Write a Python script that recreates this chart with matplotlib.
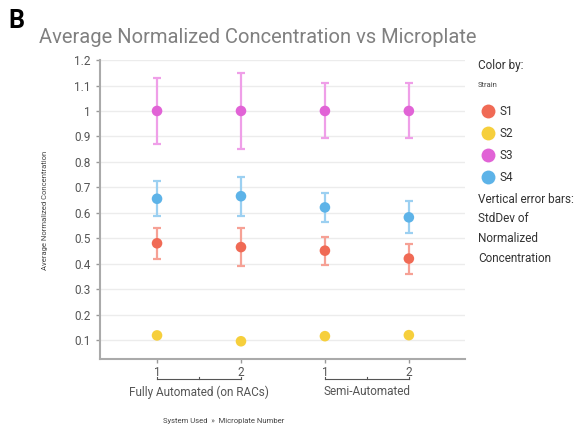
import matplotlib.pyplot as plt
import matplotlib.transforms as mtransforms
from matplotlib.lines import Line2D

plt.rcParams["font.family"] = ["Roboto", "DejaVu Sans"]

systems = ["Fully Automated (on RACs)", "Semi-Automated"]
plates = ["1", "2", "1", "2"]
strains = ["S1", "S2", "S3", "S4"]
colors = ["#f06a55", "#f6cf3c", "#e163d6", "#5db3e8"]
bar_colors = ["#f6a195", "#f9e08a", "#ef9fe8", "#9cd0f1"]

s1_mean = [0.48, 0.465, 0.451, 0.42]
s1_sd = [0.062, 0.075, 0.055, 0.059]
s2_mean = [0.118, 0.095, 0.115, 0.119]
s2_sd = [0.0, 0.0, 0.0, 0.0]
s3_mean = [1.0, 1.0, 1.0, 1.0]
s3_sd = [0.128, 0.151, 0.108, 0.108]
s4_mean = [0.655, 0.665, 0.621, 0.582]
s4_sd = [0.068, 0.077, 0.058, 0.063]

means = [s1_mean, s2_mean, s3_mean, s4_mean]
sds = [s1_sd, s2_sd, s3_sd, s4_sd]
yticks = [0.1, 0.2, 0.3, 0.4, 0.5, 0.6, 0.7, 0.8, 0.9, 1.0, 1.1, 1.2]

fig = plt.figure(figsize=(5.88, 4.29), dpi=100)
ax = fig.add_axes([0.170, 0.163, 0.621, 0.697])
x = list(range(len(plates)))

for m, s, c, bc in zip(means, sds, colors, bar_colors):
    ax.errorbar(x, m, yerr=s, fmt="none", ecolor=bc, elinewidth=1.6,
                capsize=3, capthick=1.6, zorder=2)
    ax.scatter(x, m, s=58, color=c, edgecolor="none", zorder=3)

ax.set_xlim(-0.68, 3.67)
ax.set_ylim(0.025, 1.2)
ax.set_yticks(yticks)
ax.set_yticklabels(["0.1", "0.2", "0.3", "0.4", "0.5", "0.6", "0.7", "0.8",
                    "0.9", "1", "1.1", "1.2"])
ax.set_xticks(x)
ax.set_xticklabels(plates)
ax.tick_params(axis="both", colors="#999999", labelcolor="#555555",
               labelsize=8.5, length=3, width=1)
ax.tick_params(axis="x", pad=2)
ax.grid(axis="y", color="#ececec", linewidth=1)
ax.set_axisbelow(True)
for side in ["top", "right"]:
    ax.spines[side].set_visible(False)
for side in ["left", "bottom"]:
    ax.spines[side].set_color("#aaaaaa")
    ax.spines[side].set_linewidth(1.5)

# group brackets under the plate numbers
trans = mtransforms.blended_transform_factory(ax.transData, ax.transAxes)
for i, name in enumerate(systems):
    x0, x1 = 2 * i, 2 * i + 1
    ax.add_line(Line2D([x0, x1], [-0.068, -0.068], transform=trans,
                       color="#555555", lw=0.8, clip_on=False))
    for xx in (x0, (x0 + x1) / 2, x1):
        ax.add_line(Line2D([xx, xx], [-0.068, -0.060], transform=trans,
                           color="#555555", lw=0.8, clip_on=False))
    ax.text((x0 + x1) / 2, -0.088, name, transform=trans, ha="center",
            va="top", fontsize=8.5, color="#555555")

fig.text(0.38, 0.012, "System Used  \u00bb  Microplate Number", ha="center",
         va="bottom", fontsize=5.5, color="#444444")
fig.text(0.077, 0.51, "Average Normalized Concentration", rotation=90,
         ha="center", va="center", fontsize=5.5, color="#444444")

fig.text(0.015, 0.952, "B", fontsize=18, fontweight="bold", color="black",
         va="center", ha="left")
fig.text(0.066, 0.912, "Average Normalized Concentration vs Microplate",
         fontsize=14.5, color="#808080", va="center", ha="left")

# legend
lx = 0.813
fig.text(lx, 0.848, "Color by:", fontsize=8.5, color="#333333", va="center")
fig.text(lx, 0.802, "Strain", fontsize=5.5, color="#444444", va="center")
for k, (name, c) in enumerate(zip(strains, colors)):
    yy = 0.741 - k * 0.0515
    fig.add_artist(Line2D([lx + 0.017], [yy], marker="o", markersize=10,
                          color=c, markeredgecolor="none",
                          transform=fig.transFigure))
    fig.text(lx + 0.037, yy, name, fontsize=8.5, color="#333333", va="center")
for k, line in enumerate(["Vertical error bars:", "StdDev of", "Normalized",
                          "Concentration"]):
    fig.text(lx, 0.536 - k * 0.046, line, fontsize=8.5, color="#333333",
             va="center")

fig.savefig("out.png", dpi=100)
